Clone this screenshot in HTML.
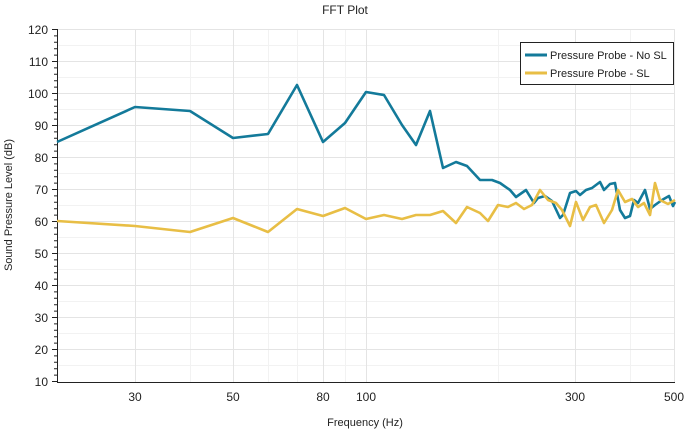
<!DOCTYPE html>
<html><head><style>body{margin:0;background:#fff}svg{display:block;font-family:"Liberation Sans",sans-serif}</style></head><body>
<svg width="686" height="432" xmlns="http://www.w3.org/2000/svg">
<rect width="686" height="432" fill="#fff"/>
<text x="345" y="14" font-size="12" text-anchor="middle" fill="#222">FFT Plot</text>
<g stroke="#f2f2f2" stroke-width="1">
<line x1="57" x2="675" y1="45.5" y2="45.5"/><line x1="57" x2="675" y1="77.5" y2="77.5"/><line x1="57" x2="675" y1="109.5" y2="109.5"/><line x1="57" x2="675" y1="141.5" y2="141.5"/><line x1="57" x2="675" y1="173.5" y2="173.5"/><line x1="57" x2="675" y1="205.5" y2="205.5"/><line x1="57" x2="675" y1="237.5" y2="237.5"/><line x1="57" x2="675" y1="269.5" y2="269.5"/><line x1="57" x2="675" y1="301.5" y2="301.5"/><line x1="57" x2="675" y1="333.5" y2="333.5"/><line x1="57" x2="675" y1="365.5" y2="365.5"/>
<line x1="190.5" x2="190.5" y1="29" y2="382"/><line x1="268.5" x2="268.5" y1="29" y2="382"/><line x1="297.5" x2="297.5" y1="29" y2="382"/><line x1="345.5" x2="345.5" y1="29" y2="382"/><line x1="498.5" x2="498.5" y1="29" y2="382"/><line x1="630.5" x2="630.5" y1="29" y2="382"/>
</g>
<g stroke="#e4e4e4" stroke-width="1">
<line x1="57" x2="675" y1="29.5" y2="29.5"/><line x1="57" x2="675" y1="61.5" y2="61.5"/><line x1="57" x2="675" y1="93.5" y2="93.5"/><line x1="57" x2="675" y1="125.5" y2="125.5"/><line x1="57" x2="675" y1="157.5" y2="157.5"/><line x1="57" x2="675" y1="189.5" y2="189.5"/><line x1="57" x2="675" y1="221.5" y2="221.5"/><line x1="57" x2="675" y1="253.5" y2="253.5"/><line x1="57" x2="675" y1="285.5" y2="285.5"/><line x1="57" x2="675" y1="317.5" y2="317.5"/><line x1="57" x2="675" y1="349.5" y2="349.5"/>
<line x1="135.5" x2="135.5" y1="29" y2="382"/><line x1="233.5" x2="233.5" y1="29" y2="382"/><line x1="323.5" x2="323.5" y1="29" y2="382"/><line x1="366.5" x2="366.5" y1="29" y2="382"/><line x1="575.5" x2="575.5" y1="29" y2="382"/><line x1="674.5" x2="674.5" y1="29" y2="382"/>
</g>
<g stroke="#222" stroke-width="1">
<line x1="57.5" x2="57.5" y1="29" y2="382"/><line x1="57" x2="675" y1="382.5" y2="382.5"/>
<path d="M52 29.5h5M52 61.5h5M52 93.5h5M52 125.5h5M52 157.5h5M52 189.5h5M52 221.5h5M52 253.5h5M52 285.5h5M52 317.5h5M52 349.5h5M52 381.5h5"/>
<path d="M54 35.9h3M54 42.3h3M54 48.7h3M54 55.1h3M54 67.9h3M54 74.3h3M54 80.7h3M54 87.1h3M54 99.9h3M54 106.3h3M54 112.7h3M54 119.1h3M54 131.9h3M54 138.3h3M54 144.7h3M54 151.1h3M54 163.9h3M54 170.3h3M54 176.7h3M54 183.1h3M54 195.9h3M54 202.3h3M54 208.7h3M54 215.1h3M54 227.9h3M54 234.3h3M54 240.7h3M54 247.1h3M54 259.9h3M54 266.3h3M54 272.7h3M54 279.1h3M54 291.9h3M54 298.3h3M54 304.7h3M54 311.1h3M54 323.9h3M54 330.3h3M54 336.7h3M54 343.1h3M54 355.9h3M54 362.3h3M54 368.7h3M54 375.1h3"/>
</g>
<g font-size="12" fill="#222" text-anchor="end">
<text x="48" y="34">120</text><text x="48" y="66">110</text><text x="48" y="98">100</text><text x="48" y="130">90</text><text x="48" y="162">80</text><text x="48" y="194">70</text><text x="48" y="226">60</text><text x="48" y="258">50</text><text x="48" y="290">40</text><text x="48" y="322">30</text><text x="48" y="354">20</text><text x="48" y="386">10</text>
</g>
<g font-size="12" fill="#222" text-anchor="middle">
<text x="135" y="401">30</text><text x="233" y="401">50</text><text x="323" y="401">80</text><text x="366" y="401">100</text><text x="575" y="401">300</text><text x="674" y="401">500</text>
</g>
<text x="365" y="426" font-size="11" text-anchor="middle" fill="#222">Frequency (Hz)</text>
<text transform="translate(12,205) rotate(-90)" font-size="11" text-anchor="middle" fill="#222">Sound Pressure Level (dB)</text>
<polyline fill="none" stroke="#137a9a" stroke-width="2.6" stroke-linejoin="round" points="57,142 135,107 190,111 233,138 268,134 297,85 323,142 345,123 366,92 384,95 402,125 416,145 430,111 443,168 456,162 467,166 480,180 492,180 500,183 510,190 516,197 526,190 534,203 538,198 545,196 552,201 560,218 563,215 570,193 576,191 580,195 586,190 592,188 600,182 604,190 610,184 615,183 620,210 625,218 630,216 634,200 638,203 645,190 650,209 655,205 662,200 669,196 673,206 675,202"/>
<polyline fill="none" stroke="#e8be45" stroke-width="2.6" stroke-linejoin="round" points="57,221 135,226 190,232 233,218 268,232 297,209 323,216 345,208 366,219 384,215 402,219 416,215 430,215 443,211 456,223 467,207 480,213 488,221 498,205 508,207 516,203 524,209 532,205 540,190 548,200 556,203 562,210 570,226 576,202 583,220 590,207 596,205 604,223 612,210 618,190 625,202 632,199 638,207 644,203 650,215 655,183 660,200 668,204 675,200"/>
<rect x="520.5" y="42.5" width="153" height="42" fill="#fff" stroke="#222" stroke-width="1"/>
<line x1="525" x2="547" y1="55" y2="55" stroke="#137a9a" stroke-width="3"/>
<line x1="525" x2="547" y1="73" y2="73" stroke="#e8be45" stroke-width="3"/>
<text x="550" y="59" font-size="11" fill="#222">Pressure Probe - No SL</text>
<text x="550" y="77" font-size="11" fill="#222">Pressure Probe - SL</text>
</svg>
</body></html>
